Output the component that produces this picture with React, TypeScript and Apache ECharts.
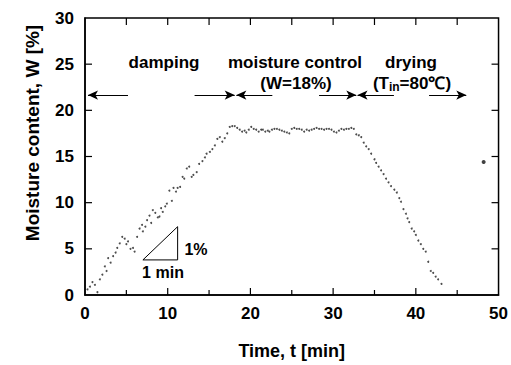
import React, { useEffect, useRef } from "react";
import * as echarts from "echarts";

// Measured trace: time [min] and moisture content W [%]
const timeMin: number[] = [
  0.3, 0.6, 0.9, 1.2, 1.5, 1.8, 2.1, 2.4, 2.6, 2.8, 3.1, 3.4, 3.7, 3.9, 4.2, 4.5, 4.8, 5.0, 5.2, 5.5,
  5.8, 6.0, 6.3, 6.6, 6.9, 7.0, 7.3, 7.5, 7.8, 8.0, 8.2, 8.5, 8.8, 9.0, 9.2, 9.4, 9.7, 9.9, 10.2, 10.5,
  10.7, 11.0, 11.2, 11.5, 11.8, 12.0, 12.3, 12.6, 12.9, 13.1, 13.5, 13.8, 14.2, 14.5, 14.7, 15.1, 15.4, 15.7, 16.0, 16.3,
  16.6, 16.9, 17.2, 17.5, 17.8, 18.1,
  18.4, 18.7, 19.0, 19.3, 19.5, 19.8, 20.1, 20.4, 20.7, 21.0, 21.3, 21.5, 21.8, 22.1, 22.3, 22.6, 22.9, 23.2, 23.5, 23.8,
  24.1, 24.4, 24.7, 25.0, 25.3, 25.6, 25.9, 26.2, 26.5, 26.8, 27.1, 27.4, 27.7, 28.0, 28.3, 28.6, 28.9, 29.2, 29.5, 29.8,
  30.1, 30.4, 30.7, 31.0, 31.3, 31.6, 31.9, 32.2, 32.5,
  32.8, 33.1, 33.4, 33.7, 34.0, 34.3, 34.6, 35.0, 35.2, 35.5, 35.8, 36.1, 36.4, 36.7, 37.0, 37.4, 37.7, 38.0, 38.2, 38.5,
  38.8, 39.0, 39.2, 39.5, 39.8, 40.0, 40.3, 40.6, 40.9, 41.2, 41.5, 41.8, 42.1, 42.4, 42.7, 43.1,
];
const moisture: number[] = [
  0.6, 0.9, 1.4, 1.1, 0.3, 1.7, 2.2, 3.1, 2.6, 4.0, 3.5, 4.2, 4.6, 5.1, 5.6, 6.3, 6.1, 5.5, 5.8, 5.0,
  5.1, 4.7, 6.3, 7.2, 7.6, 6.9, 7.4, 8.1, 8.6, 7.8, 9.2, 8.9, 8.4, 8.5, 9.4, 9.0, 9.6, 9.9, 11.3, 10.2,
  11.6, 11.2, 11.6, 11.7, 12.8, 12.6, 13.7, 13.9, 12.8, 13.0, 13.3, 14.2, 14.5, 14.9, 15.3, 15.5, 15.8, 16.2, 16.9, 17.1,
  16.6, 17.0, 17.5, 18.2, 18.3, 18.3,
  18.1, 17.9, 17.7, 17.8, 17.6, 17.9, 18.2, 18.0, 17.9, 17.7, 17.9, 17.9, 17.7, 17.8, 17.7, 17.9, 18.0, 18.0, 17.9, 17.8,
  17.7, 17.6, 17.5, 18.0, 18.1, 18.0, 18.0, 17.9, 17.7, 17.9, 17.8, 17.9, 18.0, 18.1, 18.0, 18.0, 17.9, 18.0, 18.0, 17.9,
  17.7, 17.6, 17.8, 18.0, 17.9, 18.0, 18.0, 18.1, 18.0,
  17.4, 17.3, 17.1, 16.5, 16.1, 15.8, 15.3, 14.7, 14.3, 13.9, 13.5, 13.1, 12.6, 12.2, 11.8, 11.4, 11.1, 10.5, 10.1, 9.3,
  8.8, 8.3, 7.9, 7.2, 6.9, 6.5, 5.9, 5.5, 5.0, 4.7, 3.6, 2.6, 2.4, 2.0, 1.7, 1.2,
];
// stray point on the right
const strayPoint: number[][] = [[48.2, 14.4]];

// phase arrows: [tailT, headT] at W level
const arrowLevel = 21.65;
const phaseArrows: number[][] = [
  [5.2, 0.36],
  [13.25, 18.1],
  [22.65, 18.3],
  [28.3, 32.8],
  [37.35, 32.95],
  [41.6, 46.1],
];

// slope triangle (1 min / 1 %)
const triangle: number[][] = [
  [7.0, 3.8],
  [11.2, 3.8],
  [11.2, 7.4],
  [7.0, 3.8],
];

const xTicks = { min: 0, max: 50, interval: 10, minor: 5 };
const yTicks = { min: 0, max: 30, interval: 5 };

const FONT = "'Liberation Sans', Arial, Helvetica, sans-serif";

export default function App() {
  const ref = useRef<HTMLDivElement>(null);

  useEffect(() => {
    if (!ref.current) return;
    const chart = echarts.init(ref.current, undefined, { renderer: "svg" });
    const data = timeMin.map((t, i) => [t, moisture[i]]);
    const textStyle = { fontFamily: FONT, fontWeight: "bold" as const, fill: "#000" };

    // frame + inward ticks on four sides, drawn through the grid's scales
    const renderFrame = (_params: any, api: any) => {
      const lo = api.coord([xTicks.min, yTicks.min]);
      const hi = api.coord([xTicks.max, yTicks.max]);
      const left = lo[0], bottom = lo[1], right = hi[0], top = hi[1];
      const st = { stroke: "#000", lineWidth: 1.2 };
      const children: any[] = [
        {
          type: "rect",
          shape: { x: left, y: top, width: right - left, height: bottom - top },
          style: { fill: "none", stroke: "#000", lineWidth: 1.5 },
        },
      ];
      for (let t = xTicks.min + xTicks.minor; t < xTicks.max; t += xTicks.minor) {
        const x = api.coord([t, yTicks.min])[0];
        const major = t % xTicks.interval === 0;
        children.push({ type: "line", shape: { x1: x, y1: bottom, x2: x, y2: bottom - (major ? 7 : 5) }, style: st });
        children.push({ type: "line", shape: { x1: x, y1: top, x2: x, y2: top + 7 }, style: st });
      }
      for (let w = yTicks.min + yTicks.interval; w < yTicks.max; w += yTicks.interval) {
        const y = api.coord([xTicks.min, w])[1];
        children.push({ type: "line", shape: { x1: left, y1: y, x2: left + 7, y2: y }, style: st });
        children.push({ type: "line", shape: { x1: right, y1: y, x2: right - 7, y2: y }, style: st });
      }
      return { type: "group", children };
    };

    chart.setOption({
      animation: false,
      grid: { left: 85, right: 11, top: 18, bottom: 68 },
      xAxis: {
        type: "value",
        min: xTicks.min,
        max: xTicks.max,
        interval: xTicks.interval,
        axisLine: { show: true, onZero: false, lineStyle: { color: "#000", width: 1.5 } },
        axisTick: { show: false },
        axisLabel: { color: "#000", fontSize: 17, fontWeight: "bold", fontFamily: FONT, margin: 10 },
        splitLine: { show: false },
        name: "Time, t [min]",
        nameLocation: "middle",
        nameGap: 47,
        nameTextStyle: { color: "#000", fontSize: 18, fontWeight: "bold", fontFamily: FONT },
      },
      yAxis: {
        type: "value",
        min: yTicks.min,
        max: yTicks.max,
        interval: yTicks.interval,
        axisLine: { show: true, onZero: false, lineStyle: { color: "#000", width: 1.5 } },
        axisTick: { show: false },
        axisLabel: { color: "#000", fontSize: 17, fontWeight: "bold", fontFamily: FONT, margin: 11 },
        splitLine: { show: false },
      },
      series: [
        {
          type: "custom",
          data: [[xTicks.min, yTicks.min]],
          renderItem: renderFrame,
          clip: false,
          silent: true,
          z: 5,
        },
        {
          type: "scatter",
          data,
          symbolSize: 2,
          itemStyle: { color: "#222" },
          silent: true,
        },
        {
          type: "scatter",
          data: strayPoint,
          symbolSize: 4,
          itemStyle: { color: "#111" },
          silent: true,
        },
        {
          type: "line",
          data: triangle,
          symbol: "none",
          lineStyle: { color: "#000", width: 1 },
          silent: true,
          markLine: {
            silent: true,
            symbol: ["none", "arrow"],
            symbolSize: [7, 10],
            label: { show: false },
            lineStyle: { color: "#000", width: 1, type: "solid" },
            data: phaseArrows.map(([a, b]) => [
              { coord: [a, arrowLevel] },
              { coord: [b, arrowLevel] },
            ]),
          },
        },
      ],
      graphic: [
        { type: "text", x: 164, y: 62, style: { ...textStyle, text: "damping", fontSize: 17, align: "center", verticalAlign: "middle" } },
        { type: "text", x: 295, y: 62, style: { ...textStyle, text: "moisture control", fontSize: 17, align: "center", verticalAlign: "middle" } },
        { type: "text", x: 296, y: 83, style: { ...textStyle, text: "(W=18%)", fontSize: 17, align: "center", verticalAlign: "middle" } },
        { type: "text", x: 411, y: 62, style: { ...textStyle, text: "drying", fontSize: 17, align: "center", verticalAlign: "middle" } },
        {
          type: "text",
          x: 412,
          y: 83,
          style: {
            ...textStyle,
            text: "(T{sub|in}=80℃)",
            fontSize: 17,
            align: "center",
            verticalAlign: "middle",
            rich: {
              sub: { fontFamily: FONT, fontWeight: "bold", fontSize: 12, fill: "#000", padding: [8, 0, 0, 0] },
            },
          },
        },
        { type: "text", x: 196, y: 249, style: { ...textStyle, text: "1%", fontSize: 16, align: "center", verticalAlign: "middle" } },
        { type: "text", x: 163, y: 272, style: { ...textStyle, text: "1 min", fontSize: 16, align: "center", verticalAlign: "middle" } },
        {
          type: "text",
          x: 32,
          y: 133,
          rotation: Math.PI / 2,
          style: { ...textStyle, text: "Moisture content, W [%]", fontSize: 19, align: "center", verticalAlign: "middle" },
        },
      ],
    });

    return () => chart.dispose();
  }, []);

  return <div ref={ref} style={{ width: 511, height: 365, position: "absolute", left: 0, top: 0, background: "#fff" }} />;
}
